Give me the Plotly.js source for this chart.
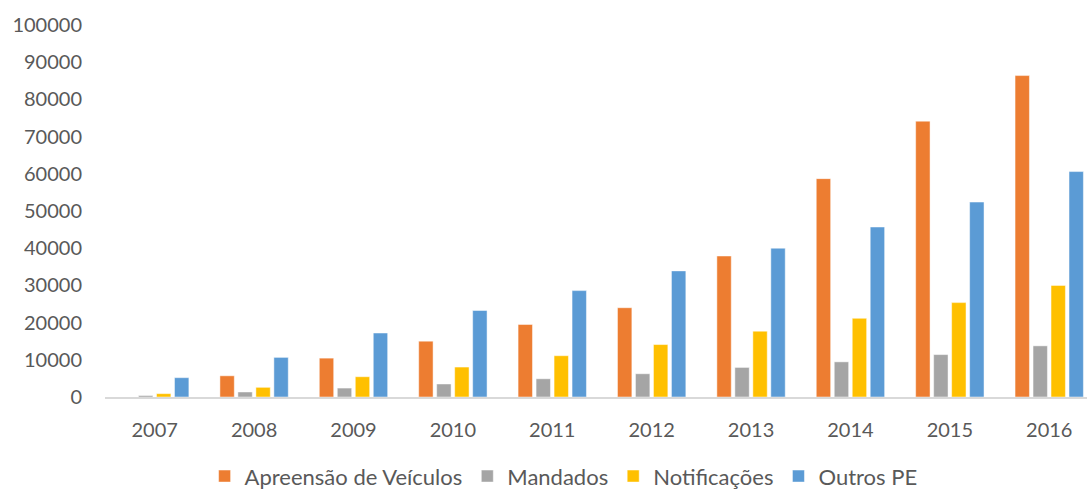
<!DOCTYPE html>
<html>
<head>
<meta charset="utf-8">
<script src="https://cdn.plot.ly/plotly-3.0.1.min.js"></script>
<style>html,body{margin:0;padding:0;background:#fff;}#chart{width:1087px;height:492px;}</style>
</head>
<body>
<div id="chart"></div>
<script>
const years = ["2007","2008","2009","2010","2011","2012","2013","2014","2015","2016"];
const seriesNames = ["Apreensão de Veículos","Mandados","Notificações","Outros PE"];
const apreensao = [0, 5700, 10450, 15000, 19500, 24000, 37900, 58700, 74150, 86400];
const mandados = [400, 1350, 2400, 3500, 4900, 6250, 7950, 9450, 11400, 13750];
const notificacoes = [900, 2600, 5450, 8050, 11100, 14100, 17700, 21150, 25370, 30000];
const outrosPE = [5200, 10650, 17200, 23250, 28600, 33900, 40000, 45700, 52400, 60600];
const yTicks = [0,10000,20000,30000,40000,50000,60000,70000,80000,90000,100000];
const colors = ["#ED7D31","#A5A5A5","#FFC000","#5B9BD5"];

const values = [apreensao, mandados, notificacoes, outrosPE];
const data = values.map((v,i)=>({
  type:'bar', name: seriesNames[i], x: years, y: v,
  marker:{color: colors[i], line:{color:'rgba(255,255,255,0.6)', width:0.8}},
  hoverinfo:'none'
}));

const axisFont = {family:'Lato, "Open Sans", sans-serif', size:20, color:'#595959'};
const legendFont = {family:'Lato, "Open Sans", sans-serif', size:22, color:'#595959'};
const layout = {
  width:1087, height:492,
  margin:{l:105, r:0, t:25, b:94.5},
  paper_bgcolor:'#fff', plot_bgcolor:'#fff',
  font: axisFont,
  barmode:'group', bargap:0.276, bargroupgap:0.2,
  showlegend:true,
  legend:{orientation:'h', x:0.467, xanchor:'center', yref:'container', y:0.032, yanchor:'middle',
          font:legendFont, traceorder:'normal', itemwidth:30},
  xaxis:{type:'category', range:[-0.5, 9.38], showline:true, linecolor:'#D9D9D9', linewidth:1.5,
         showgrid:false, zeroline:false, ticks:'', tickfont:axisFont, ticklabelstandoff:14, fixedrange:true},
  yaxis:{range:[0,100000], tickvals:yTicks, ticktext:yTicks.map(String), showgrid:false, zeroline:false,
         showline:false, ticks:'', tickfont:axisFont, ticklabelstandoff:22, fixedrange:true}
};
Plotly.newPlot('chart', data, layout, {displayModeBar:false, staticPlot:true});
</script>
</body>
</html>
